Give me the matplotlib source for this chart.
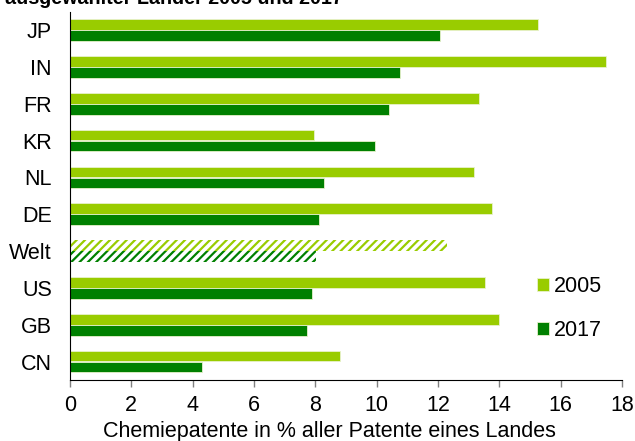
import matplotlib
matplotlib.use("Agg")
import matplotlib.pyplot as plt
import numpy as np

plt.rcParams['font.family'] = ['Liberation Sans', 'DejaVu Sans']
plt.rcParams['hatch.linewidth'] = 1.6

countries = ["JP", "IN", "FR", "KR", "NL", "DE", "Welt", "US", "GB", "CN"]
v2005 = [15.25, 17.49, 13.33, 7.95, 13.17, 13.77, 12.28, 13.54, 13.99, 8.79]
v2017 = [12.08, 10.76, 10.39, 9.96, 8.29, 8.13, 8.01, 7.90, 7.72, 4.30]
years = ["2005", "2017"]
colors = ["#99CC00", "#008000"]
xticks = [0, 2, 4, 6, 8, 10, 12, 14, 16, 18]
xlabel = "Chemiepatente in % aller Patente eines Landes"
title = "ausgewählter Länder 2005 und 2017"

FS = 15.5
fig = plt.figure(figsize=(6.35, 4.41), dpi=100)
ax = fig.add_axes([70/635, 1-380/441, (622-70)/635, (380-11.7)/441])

y = np.arange(len(countries))
h = 0.29
off = 0.15
for vals, col, sgn, lab in [(v2005, colors[0], -1, years[0]), (v2017, colors[1], 1, years[1])]:
    for i, (c, v) in enumerate(zip(countries, vals)):
        if c == "Welt":
            ax.barh(y[i] + sgn*off, v, height=h, color="white", edgecolor=col,
                    hatch="////", linewidth=0)
        else:
            ax.barh(y[i] + sgn*off, v, height=h, color=col, edgecolor="#e8f2cc",
                    linewidth=0.6, label=lab if i == 0 else None)

ax.set_ylim(len(countries) - 0.5, -0.5)
ax.set_xlim(0, 18)
ax.set_yticks(y)
ax.set_yticklabels(countries, fontsize=FS)
ax.set_xticks(xticks)
ax.set_xticklabels([str(t) for t in xticks], fontsize=FS)
ax.tick_params(axis='y', length=0, pad=13)
ax.tick_params(axis='x', length=5, color='#808080', width=1, pad=6, direction='out')
for s in ["top", "right"]:
    ax.spines[s].set_visible(False)
ax.spines["left"].set_color("black")
ax.spines["bottom"].set_color("black")
ax.set_xlabel(xlabel, fontsize=FS)
ax.xaxis.label.set_va('baseline')
ax.xaxis.set_label_coords((329 - 70) / 552, (380 - 437) / 368.3)

leg = ax.legend(loc='center left', bbox_to_anchor=(526/635, 1-308.5/441),
                bbox_transform=fig.transFigure, frameon=False, fontsize=FS,
                handlelength=0.55, handleheight=0.55, handletextpad=0.25,
                labelspacing=1.08, borderpad=0)

fig.text(5/635, 1 - 4/441, title, fontsize=14.2, fontweight='bold', va='baseline', ha='left')

fig.savefig("out.png", dpi=100)
